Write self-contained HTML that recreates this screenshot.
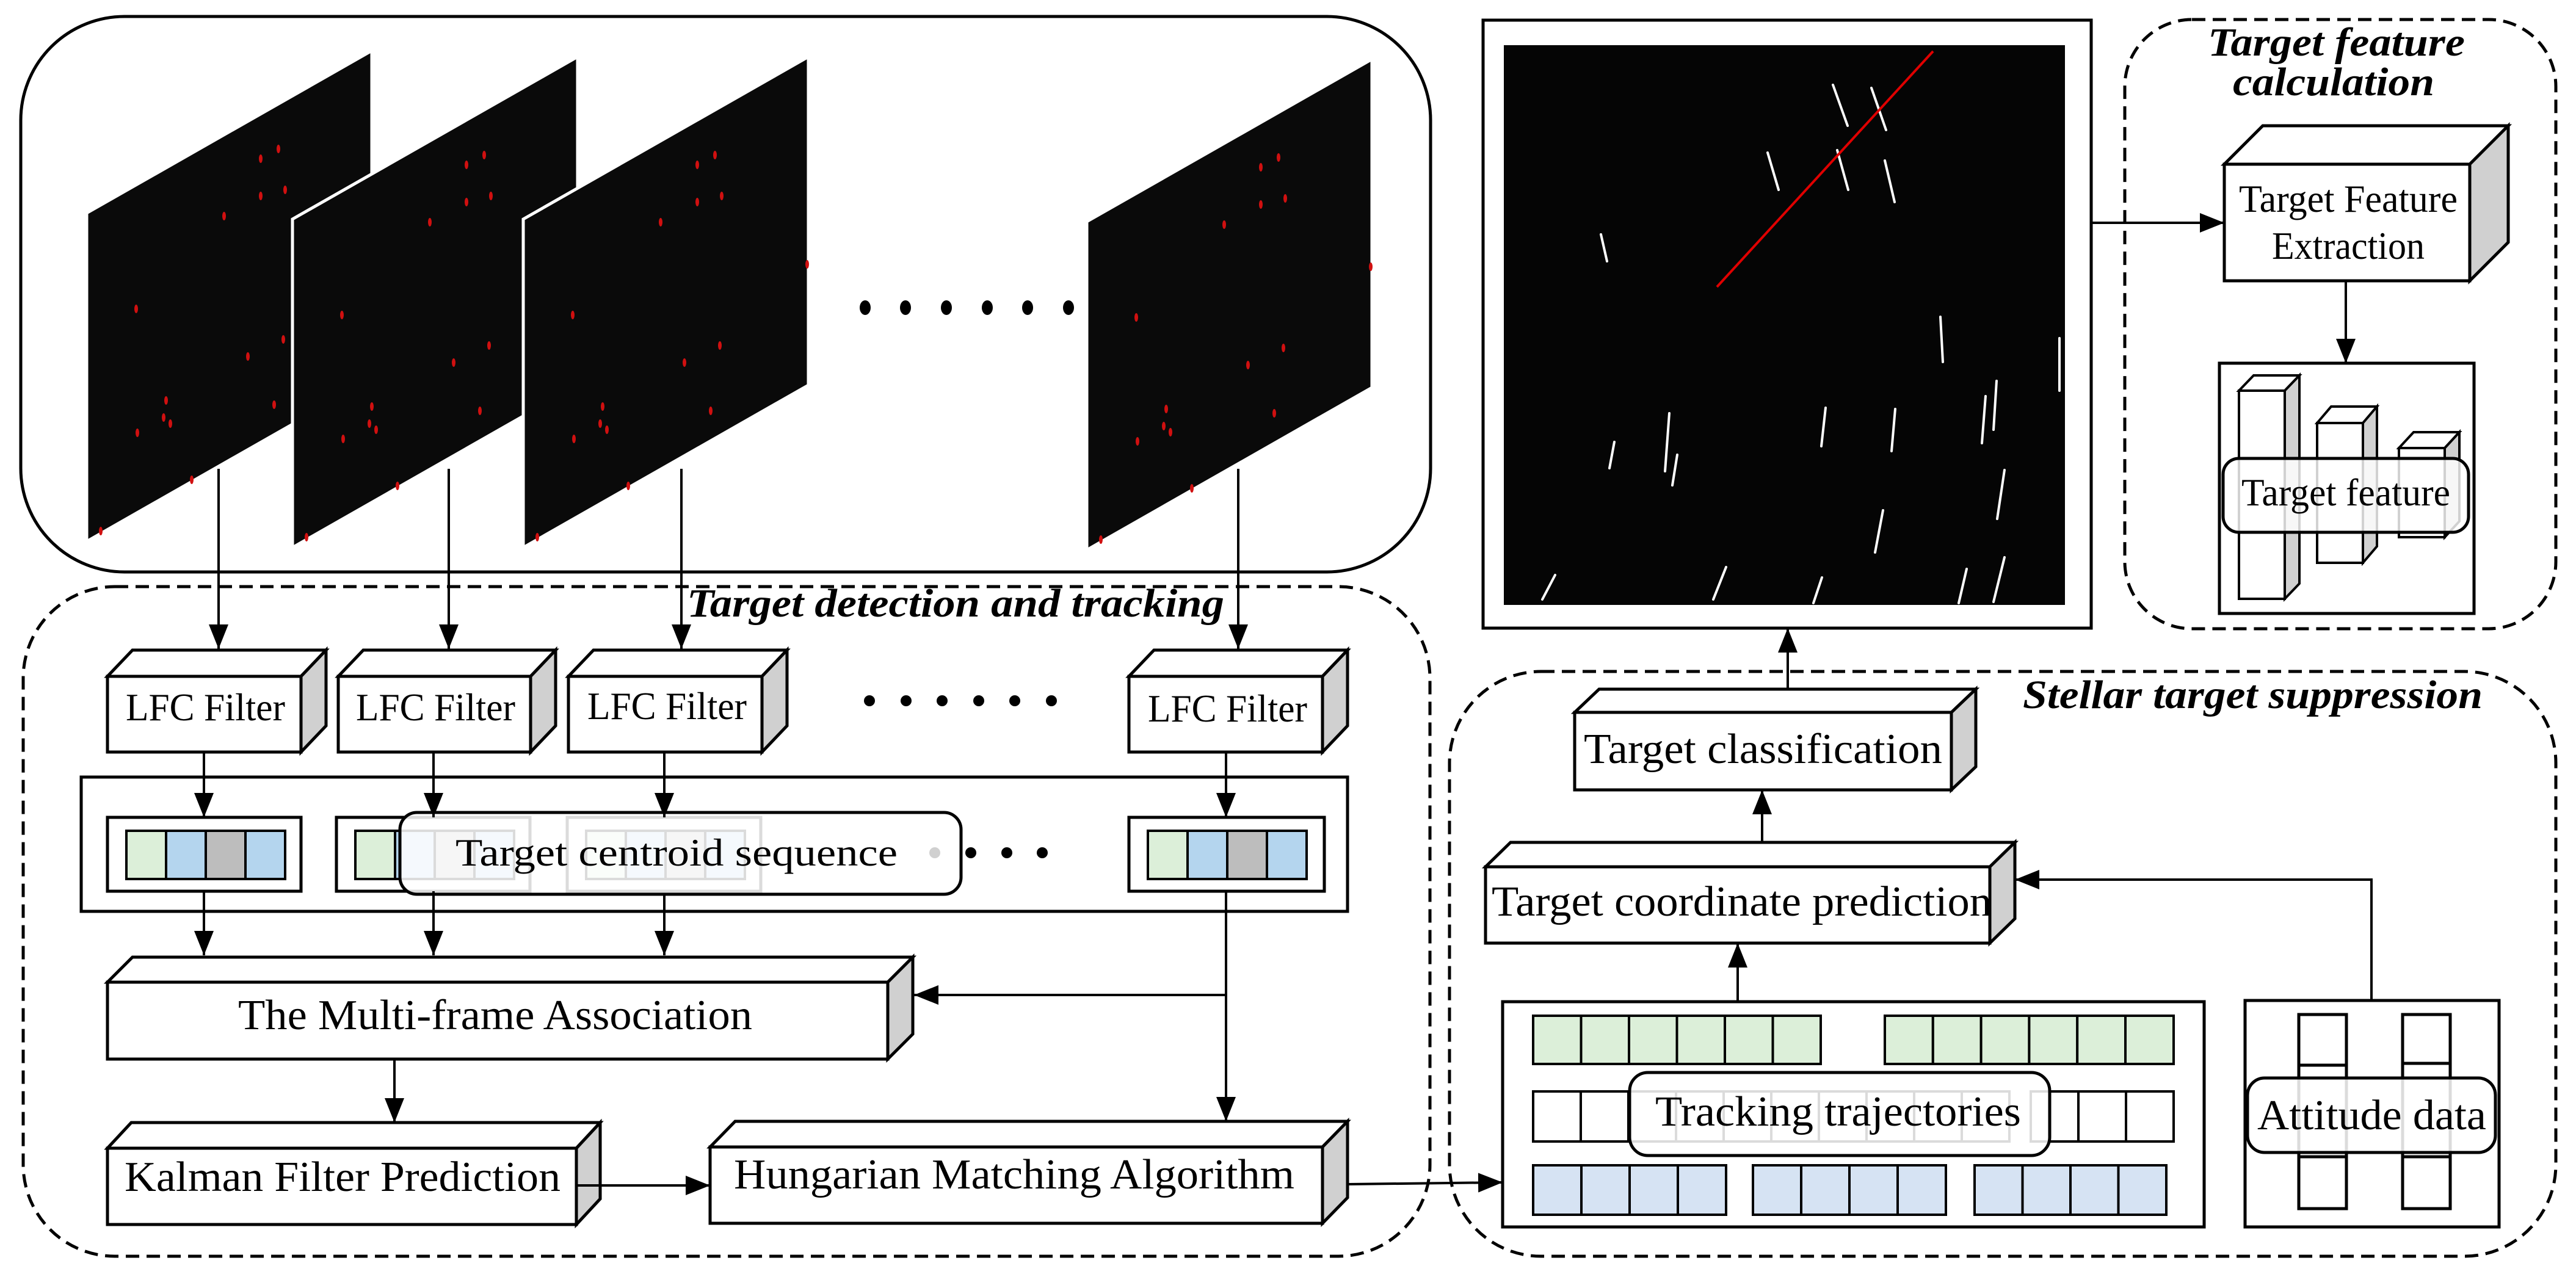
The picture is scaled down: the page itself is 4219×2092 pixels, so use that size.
<!DOCTYPE html>
<html><head><meta charset="utf-8"><style>
html,body{margin:0;padding:0;background:#fff;}
svg{display:block;}
text{font-family:"Liberation Serif",serif;fill:#000;}
.t{font-size:64px;}
.it{font-style:italic;font-weight:bold;font-size:66px;}
</style></head><body>
<svg width="4219" height="2092" viewBox="0 0 4219 2092" xmlns="http://www.w3.org/2000/svg">
<defs>
<marker id="ah" viewBox="0 0 10 10" refX="10" refY="5" markerWidth="40" markerHeight="40" markerUnits="userSpaceOnUse" orient="auto"><path d="M0,1 L10,5 L0,9 z" fill="#000"/></marker>
<g id="dots" fill="#d01010" stroke="none">
<ellipse cx="314" cy="161" rx="3" ry="7"/><ellipse cx="285" cy="177" rx="3" ry="7"/><ellipse cx="325" cy="228" rx="3" ry="7"/><ellipse cx="285" cy="238" rx="3" ry="7"/><ellipse cx="225" cy="271" rx="3" ry="7"/><ellipse cx="81" cy="423" rx="3" ry="7"/><ellipse cx="322" cy="473" rx="3" ry="7"/><ellipse cx="264" cy="501" rx="3" ry="7"/><ellipse cx="130" cy="573" rx="3" ry="7"/><ellipse cx="126" cy="601" rx="3" ry="7"/><ellipse cx="137" cy="611" rx="3" ry="7"/><ellipse cx="83" cy="626" rx="3" ry="7"/><ellipse cx="307" cy="580" rx="3" ry="7"/><ellipse cx="172" cy="703" rx="3" ry="7"/><ellipse cx="23" cy="787" rx="3" ry="7"/><ellipse cx="465" cy="340" rx="3" ry="7"/>
</g>
</defs>

<rect x="34" y="27" width="2309" height="910" rx="170" ry="170" fill="none" stroke="#000" stroke-width="5"/>
<g transform="translate(142,83)"><polygon points="0,266 467,0 467,538 0,804" fill="#0a0a0a" stroke="#fff" stroke-width="5"/><use href="#dots"/></g>
<g transform="translate(479,93)"><polygon points="0,266 467,0 467,538 0,804" fill="#0a0a0a" stroke="#fff" stroke-width="5"/><use href="#dots"/></g>
<g transform="translate(857,93)"><polygon points="0,266 467,0 467,538 0,804" fill="#0a0a0a" stroke="#fff" stroke-width="5"/><use href="#dots"/></g>
<g transform="translate(1780,97)"><polygon points="0,266 467,0 467,538 0,804" fill="#0a0a0a" stroke="#fff" stroke-width="5"/><use href="#dots"/></g>
<g fill="#000"><ellipse cx="1417" cy="504" rx="9" ry="12"/><ellipse cx="1483" cy="504" rx="9" ry="12"/><ellipse cx="1550" cy="504" rx="9" ry="12"/><ellipse cx="1617" cy="504" rx="9" ry="12"/><ellipse cx="1683" cy="504" rx="9" ry="12"/><ellipse cx="1750" cy="504" rx="9" ry="12"/></g>

<rect x="38" y="961" width="2304" height="1097" rx="150" ry="150" fill="none" stroke="#000" stroke-width="5" stroke-dasharray="22,12"/>

<g stroke="#000" stroke-width="4" fill="none" marker-end="url(#ah)">
<line x1="358" y1="768" x2="358" y2="1063"/>
<line x1="735" y1="768" x2="735" y2="1063"/>
<line x1="1116" y1="768" x2="1116" y2="1063"/>
<line x1="2028" y1="768" x2="2028" y2="1063"/>
</g>
<text class="it" x="1125" y="1010" textLength="880" lengthAdjust="spacingAndGlyphs">Target detection and tracking</text>

<g stroke="#000" stroke-width="5" stroke-linejoin="miter">
<polygon points="176,1108 217,1065 534,1065 493,1108" fill="#fff"/><polygon points="493,1108 534,1065 534,1189 493,1232" fill="#d0d0d0"/><rect x="176" y="1108" width="317" height="124" fill="#fff"/>
<polygon points="554,1108 595,1065 910,1065 869,1108" fill="#fff"/><polygon points="869,1108 910,1065 910,1189 869,1232" fill="#d0d0d0"/><rect x="554" y="1108" width="315" height="124" fill="#fff"/>
<polygon points="931,1108 972,1065 1289,1065 1248,1108" fill="#fff"/><polygon points="1248,1108 1289,1065 1289,1189 1248,1232" fill="#d0d0d0"/><rect x="931" y="1108" width="317" height="124" fill="#fff"/>
<polygon points="1849,1108 1890,1065 2207,1065 2166,1108" fill="#fff"/><polygon points="2166,1108 2207,1065 2207,1189 2166,1232" fill="#d0d0d0"/><rect x="1849" y="1108" width="317" height="124" fill="#fff"/>
<polygon points="176,1609 217,1568 1495,1568 1454,1609" fill="#fff"/><polygon points="1454,1609 1495,1568 1495,1694 1454,1735" fill="#d0d0d0"/><rect x="176" y="1609" width="1278" height="126" fill="#fff"/>
<polygon points="176,1881 215,1839 983,1839 944,1881" fill="#fff"/><polygon points="944,1881 983,1839 983,1964 944,2006" fill="#d0d0d0"/><rect x="176" y="1881" width="768" height="125" fill="#fff"/>
<polygon points="1163,1879 1204,1837 2207,1837 2166,1879" fill="#fff"/><polygon points="2166,1879 2207,1837 2207,1962 2166,2004" fill="#d0d0d0"/><rect x="1163" y="1879" width="1003" height="125" fill="#fff"/>
<polygon points="2579,1167 2619,1129 3236,1129 3196,1167" fill="#fff"/><polygon points="3196,1167 3236,1129 3236,1256 3196,1294" fill="#d0d0d0"/><rect x="2579" y="1167" width="617" height="127" fill="#fff"/>
<polygon points="2433,1420 2474,1380 3300,1380 3259,1420" fill="#fff"/><polygon points="3259,1420 3300,1380 3300,1505 3259,1545" fill="#d0d0d0"/><rect x="2433" y="1420" width="826" height="125" fill="#fff"/>
<polygon points="3643,269 3706,206 4108,206 4045,269" fill="#fff"/><polygon points="4045,269 4108,206 4108,397 4045,460" fill="#d0d0d0"/><rect x="3643" y="269" width="402" height="191" fill="#fff"/>
</g>
<text class="t" x="206" y="1180" textLength="261" lengthAdjust="spacingAndGlyphs">LFC Filter</text>
<text class="t" x="583" y="1180" textLength="261" lengthAdjust="spacingAndGlyphs">LFC Filter</text>
<text class="t" x="962" y="1178" textLength="261" lengthAdjust="spacingAndGlyphs">LFC Filter</text>
<text class="t" x="1880" y="1182" textLength="261" lengthAdjust="spacingAndGlyphs">LFC Filter</text>
<g fill="#000"><circle cx="1424" cy="1148" r="9"/><circle cx="1484" cy="1148" r="9"/><circle cx="1543" cy="1148" r="9"/><circle cx="1603" cy="1148" r="9"/><circle cx="1662" cy="1148" r="9"/><circle cx="1722" cy="1148" r="9"/></g>

<rect x="133" y="1273" width="2074" height="220" fill="none" stroke="#000" stroke-width="5"/>
<g stroke="#000" stroke-width="5">
<rect x="176" y="1339" width="317" height="121" fill="#fff"/>
<rect x="551" y="1339" width="317" height="121" fill="#fff"/>
<rect x="929" y="1339" width="317" height="121" fill="#fff"/>
<rect x="1849" y="1339" width="320" height="121" fill="#fff"/>
</g>
<g stroke="#000" stroke-width="4">
<rect x="207" y="1361" width="65" height="79" fill="#dcefd9"/><rect x="272" y="1361" width="65" height="79" fill="#b4d5ee"/><rect x="337" y="1361" width="65" height="79" fill="#bdbdbd"/><rect x="402" y="1361" width="65" height="79" fill="#b4d5ee"/>
<rect x="582" y="1361" width="65" height="79" fill="#dcefd9"/><rect x="647" y="1361" width="65" height="79" fill="#b4d5ee"/><rect x="712" y="1361" width="65" height="79" fill="#bdbdbd"/><rect x="777" y="1361" width="65" height="79" fill="#b4d5ee"/>
<rect x="960" y="1361" width="65" height="79" fill="#dcefd9"/><rect x="1025" y="1361" width="65" height="79" fill="#b4d5ee"/><rect x="1090" y="1361" width="65" height="79" fill="#bdbdbd"/><rect x="1155" y="1361" width="65" height="79" fill="#b4d5ee"/>
<rect x="1880" y="1361" width="65" height="79" fill="#dcefd9"/><rect x="1945" y="1361" width="65" height="79" fill="#b4d5ee"/><rect x="2010" y="1361" width="65" height="79" fill="#bdbdbd"/><rect x="2075" y="1361" width="65" height="79" fill="#b4d5ee"/>
</g>
<rect x="655" y="1331" width="919" height="134" rx="28" fill="#fff" fill-opacity="0.86" stroke="#000" stroke-width="5"/>
<text class="t" x="746" y="1418" textLength="724" lengthAdjust="spacingAndGlyphs">Target centroid sequence</text>
<circle cx="1531" cy="1397" r="9" fill="#d0d0d0"/>
<g fill="#000"><circle cx="1590" cy="1397" r="9"/><circle cx="1649" cy="1397" r="9"/><circle cx="1707" cy="1397" r="9"/></g>

<g stroke="#000" stroke-width="4" fill="none">
<g marker-end="url(#ah)">
<line x1="334" y1="1232" x2="334" y2="1339"/>
<line x1="710" y1="1232" x2="710" y2="1339"/>
<line x1="1088" y1="1232" x2="1088" y2="1339"/>
<line x1="2008" y1="1232" x2="2008" y2="1339"/>
<line x1="334" y1="1460" x2="334" y2="1565"/>
<line x1="710" y1="1460" x2="710" y2="1565"/>
<line x1="1088" y1="1465" x2="1088" y2="1565"/>
<line x1="2008" y1="1460" x2="2008" y2="1837"/>
<line x1="2008" y1="1630" x2="1497" y2="1630"/>
<line x1="646" y1="1735" x2="646" y2="1839"/>
<line x1="944" y1="1942" x2="1163" y2="1942"/>
<line x1="2207" y1="1940" x2="2461" y2="1937"/>
<line x1="2846" y1="1641" x2="2846" y2="1545"/>
<line x1="2886" y1="1380" x2="2886" y2="1294"/>
<line x1="2928" y1="1129" x2="2928" y2="1029"/>
<polyline points="3884,1639 3884,1441 3300,1441"/>
<line x1="3425" y1="365" x2="3643" y2="365"/>
<line x1="3842" y1="460" x2="3842" y2="595"/>
</g>
</g>
<text class="t" x="390" y="1686" textLength="842" lengthAdjust="spacingAndGlyphs" style="font-size:70px">The Multi-frame Association</text>
<text class="t" x="204" y="1951" textLength="714" lengthAdjust="spacingAndGlyphs" style="font-size:70px">Kalman Filter Prediction</text>
<text class="t" x="1202" y="1947" textLength="918" lengthAdjust="spacingAndGlyphs" style="font-size:70px">Hungarian Matching Algorithm</text>

<rect x="2429" y="33" width="996" height="996" fill="#fff" stroke="#000" stroke-width="5"/>
<rect x="2463" y="74" width="919" height="917" fill="#050505"/>
<g stroke="#fff" stroke-width="4" stroke-linecap="round">
<line x1="3002" y1="139" x2="3026" y2="206"/><line x1="3065" y1="144" x2="3089" y2="213"/><line x1="2895" y1="250" x2="2913" y2="311"/><line x1="3009" y1="246" x2="3027" y2="311"/><line x1="3087" y1="263" x2="3103" y2="331"/><line x1="2622" y1="384" x2="2632" y2="428"/><line x1="3178" y1="519" x2="3182" y2="593"/><line x1="3373" y1="554" x2="3373" y2="640"/><line x1="3270" y1="624" x2="3265" y2="704"/><line x1="3252" y1="649" x2="3246" y2="726"/><line x1="2990" y1="668" x2="2983" y2="731"/><line x1="3104" y1="670" x2="3098" y2="739"/><line x1="2734" y1="677" x2="2727" y2="772"/><line x1="2747" y1="745" x2="2739" y2="795"/><line x1="2644" y1="724" x2="2636" y2="767"/><line x1="3283" y1="770" x2="3271" y2="850"/><line x1="3084" y1="836" x2="3071" y2="905"/><line x1="2547" y1="942" x2="2526" y2="982"/><line x1="2827" y1="929" x2="2806" y2="982"/><line x1="2984" y1="946" x2="2970" y2="988"/><line x1="3221" y1="932" x2="3208" y2="988"/><line x1="3283" y1="913" x2="3265" y2="986"/>
</g>
<line x1="3166" y1="84" x2="2812" y2="470" stroke="#e00000" stroke-width="4"/>

<rect x="3480" y="32" width="706" height="998" rx="110" ry="110" fill="none" stroke="#000" stroke-width="5" stroke-dasharray="22,12"/>
<text class="it" x="3616" y="91" textLength="421" lengthAdjust="spacingAndGlyphs">Target feature</text>
<text class="it" x="3657" y="156" textLength="330" lengthAdjust="spacingAndGlyphs">calculation</text>
<text class="t" x="3667" y="347" textLength="358" lengthAdjust="spacingAndGlyphs">Target Feature</text>
<text class="t" x="3721" y="424" textLength="250" lengthAdjust="spacingAndGlyphs">Extraction</text>
<rect x="3635" y="595" width="417" height="410" fill="#fff" stroke="#000" stroke-width="5"/>
<g stroke="#000" stroke-width="4">
<polygon points="3667,640 3691,615 3766,615 3742,640" fill="#fff"/><polygon points="3742,640 3766,615 3766,956 3742,981" fill="#d0d0d0"/><rect x="3667" y="640" width="75" height="341" fill="#fff"/>
<polygon points="3795,693 3818,666 3893,666 3870,693" fill="#fff"/><polygon points="3870,693 3893,666 3893,895 3870,922" fill="#d0d0d0"/><rect x="3795" y="693" width="75" height="229" fill="#fff"/>
<polygon points="3929,734 3953,708 4028,708 4004,734" fill="#fff"/><polygon points="4004,734 4028,708 4028,854 4004,880" fill="#d0d0d0"/><rect x="3929" y="734" width="75" height="146" fill="#fff"/>
</g>
<rect x="3641" y="751" width="402" height="121" rx="26" fill="#fff" fill-opacity="0.82" stroke="#000" stroke-width="5"/>
<text class="t" x="3671" y="828" textLength="342" lengthAdjust="spacingAndGlyphs">Target feature</text>

<rect x="2374" y="1100" width="1812" height="958" rx="150" ry="150" fill="none" stroke="#000" stroke-width="5" stroke-dasharray="22,12"/>
<text class="it" x="3313" y="1160" textLength="753" lengthAdjust="spacingAndGlyphs">Stellar target suppression</text>
<text class="t" x="2594" y="1250" textLength="587" lengthAdjust="spacingAndGlyphs" style="font-size:70px">Target classification</text>
<text class="t" x="2443" y="1500" textLength="819" lengthAdjust="spacingAndGlyphs" style="font-size:70px">Target coordinate prediction</text>

<rect x="2461" y="1641" width="1149" height="369" fill="#fff" stroke="#000" stroke-width="5"/>
<g stroke="#000" stroke-width="4">
<g fill="#dcefd9">
<rect x="2511" y="1664" width="78.5" height="79"/><rect x="2589.5" y="1664" width="78.5" height="79"/><rect x="2668" y="1664" width="78.5" height="79"/><rect x="2746.5" y="1664" width="78.5" height="79"/><rect x="2825" y="1664" width="78.5" height="79"/><rect x="2903.5" y="1664" width="78.5" height="79"/>
<rect x="3087" y="1664" width="78.8" height="79"/><rect x="3165.8" y="1664" width="78.8" height="79"/><rect x="3244.6" y="1664" width="78.8" height="79"/><rect x="3323.4" y="1664" width="78.8" height="79"/><rect x="3402.2" y="1664" width="78.8" height="79"/><rect x="3481" y="1664" width="79" height="79"/>
</g>
<g fill="#fff">
<rect x="2511" y="1788" width="78" height="82"/><rect x="2589" y="1788" width="78" height="82"/><rect x="2667" y="1788" width="78" height="82"/><rect x="2745" y="1788" width="78" height="82"/><rect x="2823" y="1788" width="78" height="82"/><rect x="2901" y="1788" width="78" height="82"/><rect x="2979" y="1788" width="78" height="82"/><rect x="3057" y="1788" width="78" height="82"/><rect x="3135" y="1788" width="78" height="82"/><rect x="3213" y="1788" width="78" height="82"/><rect x="3326" y="1788" width="78" height="82"/><rect x="3404" y="1788" width="78" height="82"/><rect x="3482" y="1788" width="78" height="82"/>
</g>
<g fill="#d6e3f3">
<rect x="2511" y="1909" width="79" height="81"/><rect x="2590" y="1909" width="79" height="81"/><rect x="2669" y="1909" width="79" height="81"/><rect x="2748" y="1909" width="79" height="81"/>
<rect x="2871" y="1909" width="79" height="81"/><rect x="2950" y="1909" width="79" height="81"/><rect x="3029" y="1909" width="79" height="81"/><rect x="3108" y="1909" width="79" height="81"/>
<rect x="3234" y="1909" width="78.5" height="81"/><rect x="3312.5" y="1909" width="78.5" height="81"/><rect x="3391" y="1909" width="78.5" height="81"/><rect x="3469.5" y="1909" width="78.5" height="81"/>
</g>
</g>
<rect x="2669" y="1757" width="688" height="136" rx="30" fill="#fff" fill-opacity="0.86" stroke="#000" stroke-width="5"/>
<text class="t" x="2711" y="1844" textLength="599" lengthAdjust="spacingAndGlyphs" style="font-size:70px">Tracking trajectories</text>

<rect x="3677" y="1639" width="416" height="371" fill="#fff" stroke="#000" stroke-width="5"/>
<g stroke="#000" stroke-width="5" fill="#fff">
<rect x="3765" y="1662" width="78" height="83"/><rect x="3765" y="1745" width="78" height="150"/><rect x="3765" y="1895" width="78" height="85"/>
<rect x="3935" y="1662" width="78" height="80"/><rect x="3935" y="1742" width="78" height="153"/><rect x="3935" y="1895" width="78" height="85"/>
</g>
<rect x="3681" y="1766" width="406" height="122" rx="28" fill="#fff" fill-opacity="0.86" stroke="#000" stroke-width="5"/>
<text class="t" x="3697" y="1850" textLength="375" lengthAdjust="spacingAndGlyphs" style="font-size:70px">Attitude data</text>
</svg>
</body></html>
